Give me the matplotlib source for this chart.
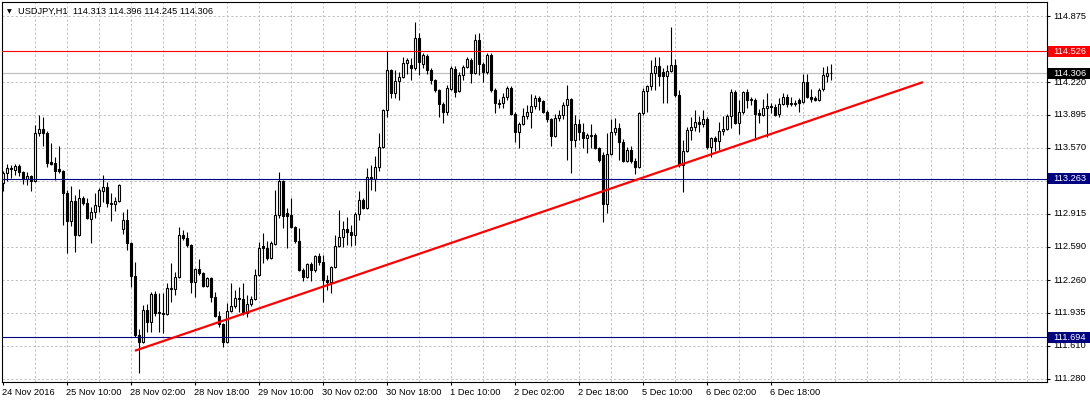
import matplotlib
matplotlib.use("Agg")
import matplotlib.pyplot as plt
from matplotlib.patches import Rectangle
import matplotlib.transforms as mtransforms

# ---------------- data ----------------
header = "USDJPY,H1  114.313 114.396 114.245 114.306"

opens = [
    113.22, 113.32, 113.37, 113.35, 113.39, 113.33, 113.26, 113.29, 113.24, 113.72,
    113.76, 113.72, 113.43, 113.42, 113.36, 113.34, 113.12, 112.84, 113.04, 112.71,
    113.07, 113.02, 112.86, 112.93, 112.99, 113.14, 113.18, 113.02, 113.01, 113.04,
    112.77, 112.85, 112.63, 112.30, 111.72, 111.65, 111.96, 111.84, 112.12, 111.94,
    111.93, 111.92, 112.18, 112.17, 112.29, 112.71, 112.68, 112.61, 112.24, 112.37,
    112.33, 112.20, 112.28, 112.09, 111.90, 111.82, 111.65, 111.95, 112.00, 112.08,
    112.07, 111.93, 112.02, 112.07, 112.31, 112.60, 112.58, 112.48, 112.62, 112.90,
    113.24, 112.92, 112.90, 112.79, 112.65, 112.36, 112.29, 112.42, 112.36, 112.50,
    112.44, 112.26, 112.24, 112.39, 112.60, 112.69, 112.77, 112.74, 112.71, 112.91,
    113.05, 112.97, 113.28, 113.26, 113.38, 113.58, 113.94, 114.34, 114.11, 114.23,
    114.27, 114.41, 114.39, 114.36, 114.66, 114.40, 114.48, 114.34, 114.24, 114.14,
    114.00, 113.92, 114.15, 114.35, 114.13, 114.29, 114.37, 114.44, 114.31, 114.64,
    114.40, 114.32, 114.49, 114.14, 114.01, 114.01, 114.07, 114.16, 113.90, 113.73,
    113.81, 113.88, 113.92, 113.98, 114.06, 114.03, 113.92, 113.85, 113.69, 113.86,
    113.89, 113.99, 114.05, 113.65, 113.81, 113.73, 113.67, 113.69, 113.70, 113.57,
    113.50, 113.01, 113.51, 113.73, 113.77, 113.63, 113.44, 113.55, 113.44, 113.38,
    113.91, 114.13, 114.18, 114.31, 114.38, 114.32, 114.28, 114.33, 114.39, 114.09,
    113.40, 113.54, 113.75, 113.78, 113.83, 113.81, 113.85, 113.58, 113.67, 113.64,
    113.74, 113.76, 113.88, 114.12, 113.82, 113.92, 114.12, 114.04, 114.04, 113.91,
    113.89, 113.96, 113.98, 113.97, 113.90, 114.00, 114.07, 114.01, 114.00, 114.04,
    114.02, 114.22, 114.07, 114.06, 114.04, 114.15, 114.28, 114.313,
]
highs = [
    113.34, 113.41, 113.40, 113.41, 113.41, 113.34, 113.33, 113.30, 113.80, 113.89,
    113.87, 113.74, 113.62, 113.48, 113.59, 113.35, 113.15, 113.19, 113.10, 113.16,
    113.09, 113.07, 112.98, 113.12, 113.17, 113.30, 113.23, 113.12, 113.08, 113.21,
    112.93, 112.96, 112.64, 112.44, 111.78, 112.01, 112.02, 112.14, 112.15, 112.13,
    112.13, 112.23, 112.43, 112.34, 112.79, 112.76, 112.74, 112.62, 112.38, 112.47,
    112.34, 112.29, 112.29, 112.14, 111.95, 111.83, 112.03, 112.23, 112.16, 112.19,
    112.23, 112.11, 112.10, 112.37, 112.64, 112.73, 112.65, 112.65, 113.15, 113.33,
    113.25, 112.97, 113.07, 112.80, 112.78, 112.38, 112.43, 112.44, 112.51, 112.53,
    112.51, 112.31, 112.40, 112.71, 112.95, 112.84, 112.88, 112.81, 112.93, 113.14,
    113.07, 113.37, 113.40, 113.49, 113.72, 113.95, 114.53, 114.35, 114.34, 114.32,
    114.47, 114.46, 114.46, 114.82, 114.71, 114.51, 114.50, 114.36, 114.25, 114.15,
    114.02, 114.19, 114.38, 114.38, 114.32, 114.39, 114.47, 114.46, 114.70, 114.71,
    114.42, 114.51, 114.51, 114.16, 114.05, 114.11, 114.18, 114.18, 113.92, 113.83,
    113.96, 113.99, 114.10, 114.09, 114.08, 114.04, 113.94, 113.86, 113.90, 113.94,
    114.02, 114.19, 114.06, 113.89, 113.85, 113.82, 113.72, 113.81, 113.72, 113.58,
    113.53, 113.72, 113.85, 113.86, 113.82, 113.66, 113.58, 113.59, 113.47, 113.92,
    114.16, 114.19, 114.44, 114.47, 114.47, 114.36, 114.39, 114.77, 114.45, 114.14,
    113.65, 113.78, 113.87, 113.94, 113.88, 113.94, 113.87, 113.68, 113.69, 113.83,
    113.88, 113.90, 114.15, 114.14, 114.04, 114.13, 114.15, 114.07, 114.06, 113.95,
    114.05, 114.11, 114.01, 114.00, 114.06, 114.11, 114.10, 114.07, 114.04, 114.06,
    114.30, 114.30, 114.15, 114.08, 114.16, 114.37, 114.38, 114.396,
]
lows = [
    113.14, 113.24, 113.27, 113.30, 113.29, 113.21, 113.20, 113.14, 113.23, 113.69,
    113.59, 113.38, 113.40, 113.25, 113.32, 112.81, 112.53, 112.80, 112.54, 112.70,
    113.00, 112.86, 112.63, 112.87, 112.93, 113.03, 112.98, 112.84, 112.94, 113.03,
    112.72, 112.56, 112.19, 111.70, 111.34, 111.64, 111.75, 111.75, 111.90, 111.75,
    111.74, 111.91, 112.04, 112.11, 112.28, 112.66, 112.59, 112.13, 112.09, 112.31,
    112.19, 112.19, 112.04, 111.89, 111.79, 111.60, 111.64, 111.94, 111.98, 111.94,
    111.91, 111.89, 112.00, 112.06, 112.30, 112.43, 112.46, 112.47, 112.61, 112.87,
    112.78, 112.58, 112.78, 112.63, 112.35, 112.25, 112.28, 112.25, 112.34, 112.41,
    112.04, 112.16, 112.13, 112.38, 112.59, 112.59, 112.61, 112.60, 112.61, 112.85,
    112.96, 112.96, 113.15, 113.14, 113.34, 113.57, 113.87, 114.06, 114.06, 114.04,
    114.26, 114.30, 114.24, 114.34, 114.29, 114.36, 114.30, 114.20, 114.12, 113.87,
    113.82, 113.89, 114.14, 114.07, 114.12, 114.24, 114.36, 114.21, 114.30, 114.29,
    114.22, 114.30, 114.12, 113.91, 113.96, 113.96, 114.04, 113.89, 113.63, 113.57,
    113.80, 113.85, 113.77, 113.95, 113.94, 113.91, 113.83, 113.59, 113.68, 113.84,
    113.85, 113.45, 113.32, 113.58, 113.65, 113.57, 113.52, 113.57, 113.56, 113.43,
    112.83, 112.92, 113.50, 113.70, 113.45, 113.43, 113.43, 113.42, 113.31, 113.37,
    113.89, 113.92, 114.14, 114.14, 114.18, 114.01, 114.01, 114.32, 114.07, 113.38,
    113.13, 113.53, 113.65, 113.74, 113.73, 113.78, 113.56, 113.48, 113.54, 113.55,
    113.70, 113.75, 113.77, 113.81, 113.71, 113.90, 113.96, 113.99, 113.65, 113.82,
    113.88, 113.68, 113.91, 113.88, 113.87, 113.99, 113.97, 113.98, 113.98, 113.92,
    114.01, 114.06, 114.02, 114.03, 114.03, 114.13, 114.22, 114.245,
]
closes = [
    113.32, 113.37, 113.36, 113.39, 113.33, 113.26, 113.29, 113.24, 113.72, 113.76,
    113.72, 113.42, 113.41, 113.34, 113.34, 113.12, 112.84, 113.04, 112.71, 113.07,
    113.02, 112.87, 112.93, 113.00, 113.15, 113.18, 113.02, 113.01, 113.04, 113.20,
    112.85, 112.63, 112.30, 111.72, 111.65, 111.96, 111.84, 112.12, 111.93, 111.93,
    111.92, 112.18, 112.17, 112.29, 112.71, 112.68, 112.61, 112.24, 112.37, 112.33,
    112.20, 112.28, 112.09, 111.90, 111.82, 111.65, 111.95, 112.00, 112.08, 112.07,
    111.93, 112.02, 112.07, 112.31, 112.58, 112.58, 112.48, 112.63, 112.90, 113.24,
    112.89, 112.89, 112.79, 112.65, 112.36, 112.29, 112.42, 112.36, 112.50, 112.44,
    112.26, 112.24, 112.39, 112.60, 112.69, 112.77, 112.74, 112.71, 112.91, 113.05,
    112.97, 113.28, 113.26, 113.38, 113.58, 113.94, 114.34, 114.11, 114.23, 114.27,
    114.41, 114.44, 114.36, 114.66, 114.42, 114.49, 114.34, 114.24, 114.14, 114.00,
    113.92, 114.16, 114.36, 114.12, 114.29, 114.37, 114.45, 114.31, 114.64, 114.40,
    114.32, 114.49, 114.14, 114.01, 114.00, 114.07, 114.16, 113.90, 113.73, 113.81,
    113.88, 113.92, 113.98, 114.06, 114.03, 113.92, 113.85, 113.69, 113.86, 113.89,
    113.99, 114.05, 113.65, 113.81, 113.73, 113.67, 113.70, 113.70, 113.57, 113.45,
    113.01, 113.51, 113.73, 113.77, 113.63, 113.44, 113.55, 113.44, 113.38, 113.91,
    114.13, 114.18, 114.31, 114.38, 114.28, 114.28, 114.33, 114.39, 114.09, 113.40,
    113.54, 113.75, 113.78, 113.83, 113.81, 113.85, 113.58, 113.67, 113.64, 113.74,
    113.76, 113.88, 114.12, 113.82, 113.92, 114.12, 114.04, 114.05, 113.90, 113.89,
    113.96, 113.98, 113.97, 113.89, 114.00, 114.07, 114.00, 114.00, 114.01, 114.01,
    114.22, 114.07, 114.05, 114.04, 114.14, 114.29, 114.31, 114.306,
]

time_tick_bars = [0, 16, 32, 48, 64, 80, 96, 112, 128, 144, 160, 176, 192]
time_tick_labels = ["24 Nov 2016", "25 Nov 10:00", "28 Nov 02:00", "28 Nov 18:00",
                    "29 Nov 10:00", "30 Nov 02:00", "30 Nov 18:00", "1 Dec 10:00",
                    "2 Dec 02:00", "2 Dec 18:00", "5 Dec 10:00", "6 Dec 02:00",
                    "6 Dec 18:00"]
price_levels = [114.875, 114.220, 113.895, 113.570, 113.245, 112.915,
                112.590, 112.260, 111.935, 111.610, 111.280]
level_red = 114.526
level_bid = 114.306
levels_navy = [113.263, 111.694]
trend_bars = [33, 230]
trend_prices = [111.56, 114.22]

# ---------------- figure ----------------
W, H = 1090, 403
FONT = ["Liberation Sans", "DejaVu Sans"]
FS = 6.7
fig = plt.figure(figsize=(W / 100, H / 100), dpi=100)
fig.patch.set_facecolor("white")
Lp, Rp, Tp, Bp = 2, 1047, 2, 382
ax = fig.add_axes([Lp / W, 1 - Bp / H, (Rp - Lp) / W, (Bp - Tp) / H])
ax.set_facecolor("white")
ax.set_xlim(-0.25, 261)
ax.set_ylim(111.2502, 115.0137)
px_per_price = (Bp - Tp) / (115.0137 - 111.2502)

for s in ax.spines.values():
    s.set_linewidth(0.8)
    s.set_color("black")

# grid
grid_kw = dict(color="#c0c0c0", lw=0.72, dashes=(2.2, 2.2), zorder=0.5)
for p in price_levels:
    ax.axhline(p, **grid_kw)
for b in range(8, 261, 8):
    ax.axvline(b, **grid_kw)

# bid line (behind candles)
ax.axhline(level_bid, color="#c0c0c0", lw=0.9, zorder=1.5)

# candles
bw = 0.5
for i, (o, h, l, c) in enumerate(zip(opens, highs, lows, closes)):
    ax.vlines(i, l, h, color="black", lw=0.8, zorder=2)
    fc = "white" if c >= o else "black"
    ax.add_patch(Rectangle((i - bw / 2, min(o, c)), bw, abs(c - o),
                           facecolor=fc, edgecolor="black", lw=0.8, zorder=3))

# horizontal levels and trend line
ax.axhline(level_red, color="#ff0000", lw=0.8, zorder=4)
for p in levels_navy:
    ax.axhline(p, color="#000080", lw=0.8, zorder=4)
ax.plot(trend_bars, trend_prices, color="#ff0000", lw=1.6, zorder=5,
        solid_capstyle="butt")

# ticks
ax.yaxis.tick_right()
ax.set_yticks(price_levels)
ax.set_yticklabels([])
ax.set_xticks(time_tick_bars)
ax.set_xticklabels([])
ax.tick_params(axis="both", direction="out", length=2.3, width=0.8, color="black")

# right price labels
bt = mtransforms.blended_transform_factory(ax.transAxes, ax.transData)
xlab = (1053 - Lp) / (Rp - Lp)
for p in price_levels:
    ax.text(xlab, p, f"{p:.3f}", transform=bt, ha="left", va="center",
            fontsize=FS, family=FONT, color="black", clip_on=False, zorder=6)

box_h = 11 / px_per_price
x0 = (1048 - Lp) / (Rp - Lp)
x1 = (1090 - Lp) / (Rp - Lp)
for p, col in [(level_red, "#ff0000"), (level_bid, "#000000"),
               (levels_navy[0], "#000080"), (levels_navy[1], "#000080")]:
    ax.add_patch(Rectangle((x0, p - box_h / 2), x1 - x0, box_h, transform=bt,
                           facecolor=col, edgecolor="none", clip_on=False, zorder=7))
    ax.text(xlab, p, f"{p:.3f}", transform=bt, ha="left", va="center",
            fontsize=FS, family=FONT, color="white", clip_on=False, zorder=8)

# time labels
tb = mtransforms.blended_transform_factory(ax.transData, ax.transAxes)
ylab = (Bp - 395) / (Bp - Tp)
for b, lab in zip(time_tick_bars, time_tick_labels):
    ax.text(b - 0.2, ylab, lab, transform=tb, ha="left", va="baseline",
            fontsize=FS, family=FONT, color="black", clip_on=False)

# header
fig.text(7 / W, 1 - 13 / H, "\u25BC", fontsize=4.5, family=["DejaVu Sans"],
         ha="left", va="baseline", color="black")
fig.text(18 / W, 1 - 14 / H, header, fontsize=FS, family=FONT,
         ha="left", va="baseline", color="black")

fig.savefig("out.png", dpi=100, facecolor="white")
